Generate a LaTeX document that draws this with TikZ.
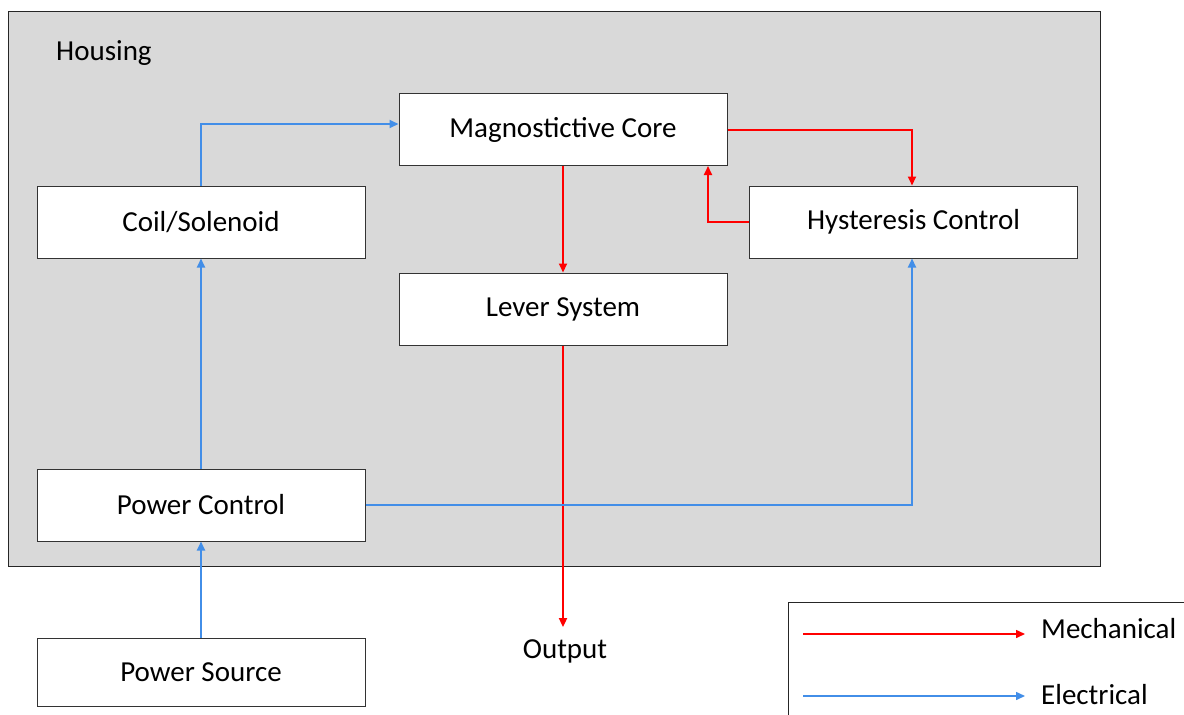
\documentclass[tikz,border=0pt]{standalone}
\usepackage{fontspec}
\setmainfont{Carlito}
\usetikzlibrary{arrows.meta}
\definecolor{housegray}{RGB}{217,217,217}
\definecolor{mechred}{RGB}{255,0,0}
\definecolor{elecblue}{RGB}{66,142,232}
\begin{document}
\begin{tikzpicture}[x=1pt,y=-1pt,
  font=\fontsize{29}{33}\selectfont,
  block/.style={draw=black!80, line width=1pt, fill=white, minimum width=328pt, minimum height=72pt, inner sep=0pt},
  mech/.style={draw=mechred, line width=2pt, -{Triangle[length=9pt,width=8pt]}},
  elec/.style={draw=elecblue, line width=2pt, -{Triangle[length=9pt,width=8pt]}},
  plain/.style={inner sep=0pt}]
\useasboundingbox (0,0) rectangle (1184,715);
\fill[white] (0,0) rectangle (1184,715);
% housing
\draw[draw=black!85, line width=1pt, fill=housegray] (8,11) rectangle (1100,566);
\node[plain, anchor=west] (housing) at (56,53) {Housing};
% blocks
\node[block] (core) at (563,129.5) {Magnostictive Core};
\node[block] (coil) at (201,222) {Coil/Solenoid};
\node[block] (hyst) at (913.5,222) {Hysteresis Control};
\node[block] (lever) at (563,309) {Lever System};
\node[block] (pctrl) at (201,505) {Power Control};
\node[block, minimum height=68pt] (psrc) at (201,672) {Power Source};
\node[plain] (out) at (565,651) {Output};
% connectors
\draw[elec] (coil.north) |- ([yshift=5.5pt]core.west);
\draw[mech] (core.east) -| ([xshift=-1.5pt]hyst.north);
\draw[mech] (hyst.west) -| (core.south -| 708,0);
\draw[mech] (core.south) -- (lever.north);
\draw[mech] (lever.south) -- ([yshift=12pt]lever.south |- out.north);
\draw[elec] (pctrl.north) -- (coil.south);
\draw[elec] (pctrl.east) -| ([xshift=-1.5pt]hyst.south);
\draw[elec] (psrc.north) -- (pctrl.south);
% legend
\draw[draw=black!85, line width=1pt, fill=white] (788,602) rectangle (1190,720);
\coordinate (m1) at (803,634);
\coordinate (m2) at (1025,634);
\coordinate (e1) at (803,696);
\coordinate (e2) at (1025,696);
\draw[mech, line width=1.5pt] (m1) -- (m2);
\draw[elec, line width=1.5pt] (e1) -- (e2);
\node[plain, anchor=west] (lmech) at (1041,629) {Mechanical};
\node[plain, anchor=west] (lelec) at (1041,695) {Electrical};
\end{tikzpicture}
\end{document}
